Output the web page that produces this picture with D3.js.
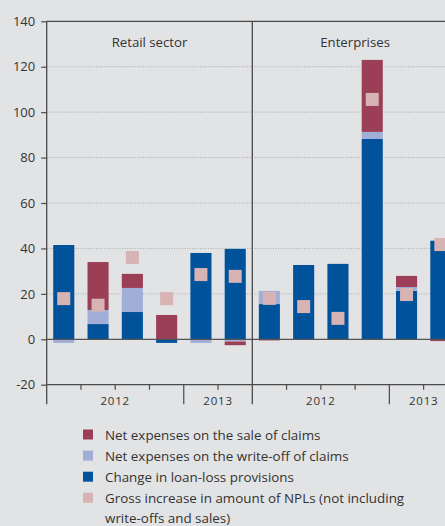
<!DOCTYPE html>
<html>
<head>
<meta charset="utf-8">
<script src="https://cdn.jsdelivr.net/npm/d3@7/dist/d3.min.js"></script>
<style>
  html, body { margin: 0; padding: 0; background: #e2e3e5; }
  svg { display: block; }
  text { font-family: "Open Sans", "Noto Sans", sans-serif; fill: #333; }
</style>
</head>
<body>
<svg id="chart" width="445" height="526"></svg>
<script>
// Panels and quarters (Q1 2012 – Q2 2013)
const panels = ["Retail sector", "Enterprises"];
const quarters = ["Q1 2012", "Q2 2012", "Q3 2012", "Q4 2012", "Q1 2013", "Q2 2013"];
const yearLabels = ["2012", "2013"];
const yearSpans = [4, 2];
const yTicks = [-20, 0, 20, 40, 60, 80, 100, 120, 140];

// Retail sector (EUR million)
const retailProvisions = [41.5, 6.7, 12.0, -1.6, 38.0, 39.8];
const retailWriteOff   = [-1.6, 6.2, 10.6, 0, -1.6, -1.0];
const retailSale       = [0, 21.1, 6.2, 10.7, 0, -1.6];
const retailNPL        = [17.9, 15.0, 36.0, 17.9, 28.5, 27.7];

// Enterprises (EUR million)
const entProvisions = [15.5, 32.7, 33.2, 88.2, 21.3, 43.4];
const entWriteOff   = [5.8, 0, 0, 3.1, 1.7, 0];
const entSale       = [-0.5, 0, 0, 31.7, 4.9, -0.8];
const entNPL        = [18.0, 14.4, 9.2, 105.6, 19.7, 41.7];

const seriesKeys = ["provisions", "writeOff", "sale"];
const seriesColors = { sale: "#9b3f56", writeOff: "#a0aed8", provisions: "#00529b", npl: "#d7b3b3" };
const legendItems = [
  { key: "sale", lines: ["Net expenses on the sale of claims"] },
  { key: "writeOff", lines: ["Net expenses on the write-off of claims"] },
  { key: "provisions", lines: ["Change in loan-loss provisions"] },
  { key: "npl", lines: ["Gross increase in amount of NPLs (not including", "write-offs and sales)"] }
];

const panelData = [
  { provisions: retailProvisions, writeOff: retailWriteOff, sale: retailSale, npl: retailNPL },
  { provisions: entProvisions, writeOff: entWriteOff, sale: entSale, npl: entNPL }
];

const svg = d3.select("#chart");
const plotLeft = 46.7, plotTop = 21.3, panelW = 205.6;
const y = d3.scaleLinear().domain([-20, 140]).range([384.7, plotTop]);

// Gridlines (dotted) behind bars
const grid = svg.append("g");
yTicks.filter(t => t > 0 && t < 140).forEach(t => {
  grid.append("line")
    .attr("x1", plotLeft).attr("x2", 445)
    .attr("y1", y(t)).attr("y2", y(t))
    .attr("stroke", "#a9aaac").attr("stroke-width", 1)
    .attr("stroke-dasharray", "1 1.6");
});

const stack = d3.stack().keys(seriesKeys).offset(d3.stackOffsetDiverging);

panelData.forEach((pd, pi) => {
  const x0 = plotLeft + pi * panelW;
  const x = d3.scaleBand().domain(quarters).range([x0, x0 + panelW]).paddingInner(0.385).paddingOuter(0.19);
  const rows = quarters.map((q, i) => ({ q, provisions: pd.provisions[i], writeOff: pd.writeOff[i], sale: pd.sale[i] }));
  const stacked = stack(rows);
  const g = svg.append("g");
  stacked.forEach(s => {
    g.selectAll(null).data(s).enter().append("rect")
      .attr("x", d => x(d.data.q))
      .attr("width", x.bandwidth())
      .attr("y", d => y(Math.max(d[0], d[1])))
      .attr("height", d => Math.abs(y(d[0]) - y(d[1])))
      .attr("fill", seriesColors[s.key]);
  });

  // NPL markers
  const sq = 13;
  g.selectAll(null).data(pd.npl).enter().append("rect")
    .attr("x", (d, i) => x(quarters[i]) + x.bandwidth() / 2 - sq / 2)
    .attr("y", d => y(d) - sq / 2)
    .attr("width", sq).attr("height", sq)
    .attr("fill", seriesColors.npl);

  // Panel title
  svg.append("text")
    .attr("x", x0 + panelW / 2).attr("y", 47)
    .attr("text-anchor", "middle").attr("font-size", 13.2)
    .text(panels[pi]);

  // Bottom ticks and year labels
  const step = panelW / quarters.length;
  const axisY = y(-20);
  for (let i = 1; i < quarters.length; i++) {
    const long = i === yearSpans[0];
    svg.append("line")
      .attr("x1", x0 + i * step).attr("x2", x0 + i * step)
      .attr("y1", axisY).attr("y2", axisY + (long ? 19.5 : 5))
      .attr("stroke", "#4a4a4a").attr("stroke-width", 1.2);
  }
  let start = 0;
  yearLabels.forEach((yl, k) => {
    const cx = x0 + (start + yearSpans[k] / 2) * step;
    svg.append("text")
      .attr("x", cx).attr("y", 405)
      .attr("text-anchor", "middle").attr("font-size", 11.5)
      .attr("letter-spacing", 0.8)
      .text(yl);
    start += yearSpans[k];
  });
});

// Zero line over bars
svg.append("line")
  .attr("x1", plotLeft).attr("x2", 445)
  .attr("y1", y(0)).attr("y2", y(0))
  .attr("stroke", "#555").attr("stroke-width", 1.2);

// Frame: top border, bottom axis, left axis, panel divider
svg.append("line").attr("x1", plotLeft).attr("x2", 445).attr("y1", y(140)).attr("y2", y(140))
  .attr("stroke", "#4a4a4a").attr("stroke-width", 1.3);
svg.append("line").attr("x1", plotLeft).attr("x2", 445).attr("y1", y(-20)).attr("y2", y(-20))
  .attr("stroke", "#4a4a4a").attr("stroke-width", 1.3);
[plotLeft, plotLeft + panelW].forEach(xx => {
  svg.append("line").attr("x1", xx).attr("x2", xx).attr("y1", y(140)).attr("y2", y(-20) + 19.5)
    .attr("stroke", "#4a4a4a").attr("stroke-width", 1.3);
});

// Y axis ticks and labels (plain hyphen for negatives)
const yAxis = svg.append("g").attr("transform", `translate(${plotLeft},0)`)
  .call(d3.axisLeft(y).tickValues(yTicks).tickSize(5.5).tickPadding(6).tickFormat(d => String(d)));
yAxis.select(".domain").remove();
yAxis.selectAll("line").attr("stroke", "#4a4a4a").attr("stroke-width", 1.2);
yAxis.selectAll("text").attr("font-size", 13).attr("fill", "#333")
  .attr("font-family", "\"Open Sans\", \"Noto Sans\", sans-serif");

// Legend
const lg = svg.append("g");
let ly = 434.5;
legendItems.forEach(item => {
  lg.append("rect").attr("x", 83).attr("y", ly - 5).attr("width", 10).attr("height", 10)
    .attr("fill", seriesColors[item.key]);
  item.lines.forEach((line, li) => {
    lg.append("text").attr("x", 105).attr("y", ly + li * 20.6)
      .attr("dominant-baseline", "central").attr("font-size", 13.4)
      .text(line);
  });
  ly += 21.1 * item.lines.length;
});
</script>
</body>
</html>
